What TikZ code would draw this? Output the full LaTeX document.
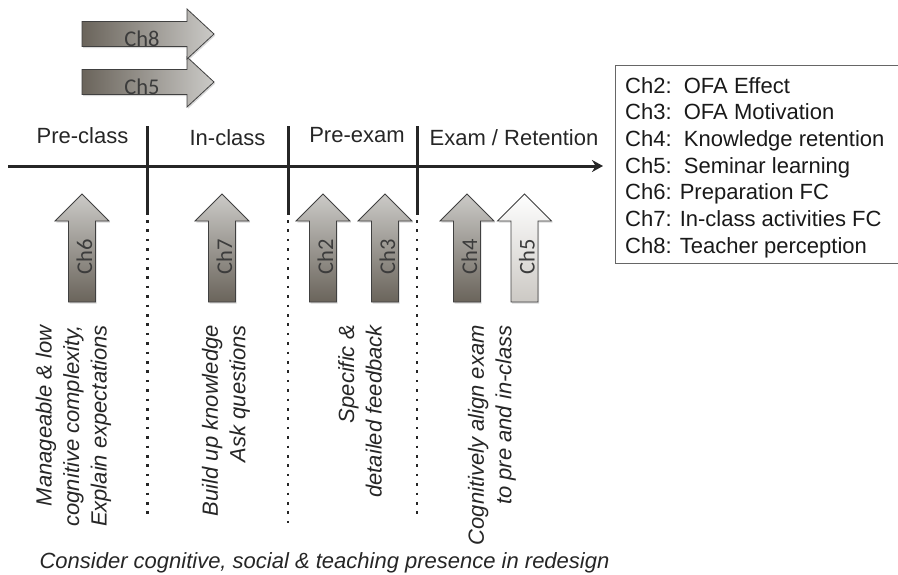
\documentclass[tikz,border=0pt]{standalone}
\usepackage{fontspec}
\setmainfont{Liberation Sans}
\newfontfamily\chfont{Carlito}
\usetikzlibrary{arrows.meta,shadows}

\definecolor{arrdark}{HTML}{6A645B}
\definecolor{arrlight}{HTML}{CBCAC7}
\definecolor{paletop}{HTML}{FEFEFE}
\definecolor{palebot}{HTML}{CCC9C4}
\definecolor{edge}{HTML}{404040}
\definecolor{ink}{HTML}{262626}

\begin{document}
\begin{tikzpicture}[x=1pt,y=-1pt,
  chapter/.style={draw=edge, line width=0.8pt, line join=miter,
    drop shadow={shadow xshift=1.2pt, shadow yshift=-1.6pt, opacity=0.3}},
  uparr/.style={chapter, top color=arrlight, bottom color=arrdark},
  paleup/.style={chapter, top color=paletop, bottom color=palebot},
  rightarr/.style={chapter, left color=arrdark, right color=arrlight},
  chlabel/.style={font=\chfont\fontsize{22.5}{22.5}\selectfont, text=ink!90, inner sep=0pt},
  phase/.style={font=\fontsize{22}{26}\selectfont, text=ink, inner sep=0pt, anchor=base},
  note/.style={font=\itshape\fontsize{22}{27.5}\selectfont, text=ink, inner sep=0pt,
    align=right, rotate=90, anchor=east},
  divider/.style={draw=ink, line width=3pt},
  dotline/.style={draw=ink, line width=2.6pt, dash pattern=on 2.6pt off 6.8pt},
  timeline/.style={draw=ink, line width=3pt, -{Stealth[length=11pt,width=12pt]}}
]
\useasboundingbox (0,0) rectangle (898,574);

% chapters spanning the whole course (pointing right)
\foreach \cy/\lab in {82/5, 34/8}{
  \draw[rightarr] (82,\cy-12.5) -- (187,\cy-12.5) -- (187,\cy-25) -- (214,\cy)
     -- (187,\cy+25) -- (187,\cy+12.5) -- (82,\cy+12.5) -- cycle;
  \node[chlabel] (span\lab) at (142,\cy+4.5) {Ch\lab};
}

% phase headings
\node[phase] (preclass) at (82.5,143) {Pre-class};
\node[phase] (inclass)  at (227.5,145) {In-class};
\node[phase] (preexam)  at (357,142) {Pre-exam};
\node[phase] (exam)     at (514,145) {Exam / Retention};

% timeline
\coordinate (axL) at (8,166);
\coordinate (axR) at (603,166);
\draw[timeline] (axL) -- (axR);

% phase boundaries: solid near the timeline, dotted below
\foreach \dx/\dend [count=\i] in {147.5/518, 288/525, 417/518}{
  \coordinate (div\i top) at (\dx,126);
  \coordinate (div\i mid) at (\dx,215);
  \coordinate (div\i dot) at (\dx,220);
  \coordinate (div\i end) at (\dx,\dend);
  \draw[divider] (div\i top) -- (div\i mid);
  \draw[dotline] (div\i dot) -- (div\i end);
}

% chapters tied to one phase (pointing up)
\foreach \cx/\lab/\sty in {82/6/uparr, 222/7/uparr, 323/2/uparr, 385/3/uparr,
                          467/4/uparr, 524.5/5/paleup}{
  \draw[\sty] (\cx-13.5,302) -- (\cx-13.5,221) -- (\cx-27,221) -- (\cx,194)
     -- (\cx+27,221) -- (\cx+13.5,221) -- (\cx+13.5,302) -- cycle;
  \node[chlabel, rotate=90] (phase\lab) at (\cx+2.5,257) {Ch\lab};
}

% design guidelines per phase
\node[note] (tipA) at (73.5,325) {Manageable \& low\\cognitive complexity,\\Explain expectations};
\node[note] (tipB) at (226,325) {Build up knowledge\\Ask questions};
\node[note] (tipC) at (360,325) {Specific \&\\detailed feedback};
\node[note] (tipD) at (492,325) {Cognitively align exam\\to pre and in-class};

\node[font=\itshape\fontsize{22}{26}\selectfont, text=ink, inner sep=0pt, anchor=base]
  (redesign) at (324.5,568) {Consider cognitive, social \& teaching presence in redesign};

% chapter legend: frame (runs off the right edge) and its entries
\node[draw=edge!80, line width=1pt, anchor=north west, minimum width=300pt,
      minimum height=198pt, inner sep=0pt] (legend) at (615,65) {};
\node[anchor=north west, inner sep=0pt, align=left,
      font=\fontsize{22}{26.7}\selectfont, text=black!90] (legendtext)
  at ([xshift=10pt,yshift=-12pt]legend.north west)
  {Ch2:\ \ OFA Effect\\
   Ch3:\ \ OFA Motivation\\
   Ch4:\ \ Knowledge retention\\
   Ch5:\ \ Seminar learning\\
   Ch6: Preparation FC\\
   Ch7: In-class activities FC\\
   Ch8: Teacher perception};
\end{tikzpicture}
\end{document}
